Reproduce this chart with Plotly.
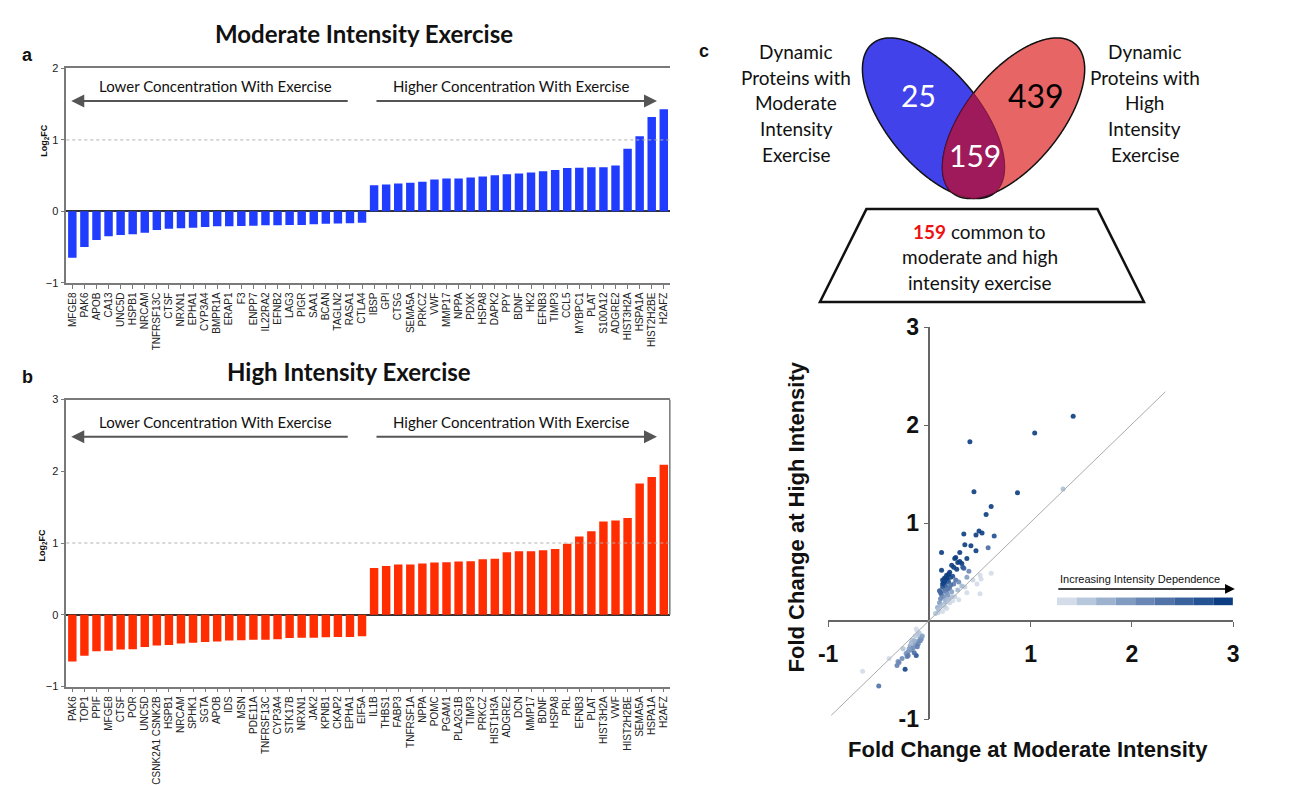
import numpy as np
import plotly.graph_objects as go

W, H = 1307, 785
def X(px): return px / W
def Y(py): return 1 - py / H

# ---------------- data ----------------
mod_genes = ["MFGE8","PAK6","APOB","CA13","UNC5D","HSPB1","NRCAM","TNFRSF13C","CTSF","NRXN1",
             "EPHA1","CYP3A4","BMPR1A","ERAP1","F3","ENPP7","IL22RA2","EFNB2","LAG3","PIGR",
             "SAA1","BCAN","TAGLN2","RASA1","CTLA4",
             "IBSP","GPI","CTSG","SEMA5A","PRKCZ","VWF","MMP17","NPPA","PDXK","HSPA8",
             "DAPK2","PPY","BDNF","HK2","EFNB3","TIMP3","CCL5","MYBPC1","PLAT","S100A12",
             "ADGRE2","HIST3H2A","HSPA1A","HIST2H2BE","H2AFZ"]
mod_fc = [-0.65,-0.50,-0.40,-0.35,-0.33,-0.32,-0.30,-0.26,-0.245,-0.235,
          -0.23,-0.22,-0.21,-0.21,-0.205,-0.20,-0.195,-0.195,-0.19,-0.19,
          -0.18,-0.175,-0.17,-0.165,-0.16,
          0.366,0.375,0.39,0.40,0.415,0.446,0.46,0.46,0.473,0.487,
          0.505,0.52,0.53,0.545,0.56,0.58,0.607,0.61,0.616,0.616,
          0.643,0.875,1.05,1.32,1.43]

high_genes = ["PAK6","TOP1","PPIF","MFGE8","CTSF","POR","UNC5D","CSNK2A1 CSNK2B","HSPB1","NRCAM",
              "SPHK1","SGTA","APOB","IDS","MSN","PDE11A","TNFRSF13C","CYP3A4","STK17B","NRXN1",
              "JAK2","KPNB1","CKAP2","EPHA1","EIF5A",
              "IL1B","THBS1","FABP3","TNFRSF1A","NPPA","POMC","PGAM1","PLA2G1B","TIMP3","PRKCZ",
              "HIST1H3A","ADGRE2","DCN","MMP17","BDNF","HSPA8","PRL","EFNB3","PLAT","HIST3H2A",
              "VWF","HIST2H2BE","SEMA5A","HSPA1A","H2AFZ"]
high_fc = [-0.65,-0.57,-0.51,-0.50,-0.485,-0.48,-0.45,-0.43,-0.42,-0.40,
           -0.39,-0.38,-0.373,-0.36,-0.355,-0.35,-0.347,-0.34,-0.325,-0.32,
           -0.32,-0.315,-0.31,-0.31,-0.30,
           0.65,0.68,0.70,0.70,0.716,0.73,0.733,0.742,0.747,0.773,
           0.78,0.87,0.884,0.884,0.90,0.915,0.99,1.09,1.165,1.30,
           1.315,1.347,1.83,1.92,2.09]

# common proteins: fold change at moderate (x) vs high (y)
common_mod = [1.42,1.04,0.40,0.44,0.87,0.61,0.56,0.34,0.49,0.52,0.46,0.64,0.35,0.41,0.12,0.30,0.46,
              0.25,0.26,0.37,0.12,0.28,0.30,0.32,0.33,0.34,0.22,0.24,0.27,0.20,0.17,0.21,0.15,0.18,
              0.23,0.19,0.14,0.16,0.13,0.20,0.10,0.15,0.17,0.12,0.14,0.19,0.11,0.16,0.22,0.24,0.26,
              0.18,0.13,0.21,0.15,0.17,0.19,0.11,0.13,
              1.32,0.58,0.39,0.61,0.50,0.51,0.29,0.37,0.37,0.47,0.50,0.28,0.29,0.25,0.35,0.10,0.12,
              0.16,0.19,0.22,0.08,0.085,0.17,0.14,0.20,0.23,0.09,0.13,0.18,0.15,0.43,0.32,0.06,
              -0.66,-0.50,-0.40,-0.24,-0.32,-0.31,-0.23,-0.21,-0.19,-0.14,-0.10,-0.09,-0.12,-0.13,
              -0.17,-0.13,-0.11,-0.18,-0.22,-0.27,-0.15,-0.09,-0.11,-0.10,-0.14,-0.18,-0.21,-0.16,
              -0.08,-0.12,-0.20,-0.15,-0.07,-0.13,-0.26,-0.30]
common_high = [2.09,1.92,1.83,1.32,1.31,1.17,1.09,0.89,0.92,0.90,0.88,0.87,0.78,0.77,0.70,0.70,0.72,
               0.64,0.65,0.64,0.52,0.60,0.61,0.59,0.55,0.54,0.57,0.55,0.53,0.50,0.47,0.45,0.44,0.42,
               0.46,0.40,0.39,0.36,0.35,0.34,0.31,0.31,0.29,0.27,0.25,0.24,0.23,0.22,0.30,0.38,0.42,
               0.33,0.42,0.37,0.40,0.44,0.48,0.29,0.38,
               1.35,0.75,0.51,0.49,0.47,0.43,0.40,0.45,0.29,0.38,0.28,0.32,0.22,0.25,0.35,0.19,0.16,
               0.20,0.22,0.25,0.14,0.09,0.13,0.17,0.19,0.21,0.12,0.10,0.27,0.15,0.42,0.36,0.08,
               -0.51,-0.66,-0.38,-0.49,-0.45,-0.41,-0.33,-0.31,-0.25,-0.23,-0.20,-0.17,-0.10,-0.35,
               -0.19,-0.21,-0.23,-0.29,-0.36,-0.38,-0.32,-0.20,-0.14,-0.12,-0.15,-0.22,-0.35,-0.27,
               -0.18,-0.26,-0.28,-0.20,-0.15,-0.08,-0.28,-0.42]

venn_counts = {"mod_only": 25, "both": 159, "high_only": 439}
scatter_ticks = [-1, 1, 2, 3]
legend_steps = ["#D3DCE8","#B7C8DC","#9CB2CF","#819CC1","#6986B5","#5273A8","#3A629D","#245293","#0B3D80"]

# ---------------- figure ----------------
fig = go.Figure()
AX = "#7a7a7a"
FONT = "Arial, Liberation Sans, sans-serif"
CAL = "Lato, Open Sans, sans-serif"

fig.add_trace(go.Bar(x=mod_genes, y=mod_fc, marker_color="#1f3cff", marker_line_width=0,
                     xaxis="x", yaxis="y", showlegend=False))
fig.add_trace(go.Bar(x=high_genes, y=high_fc, marker_color="#ff2d00", marker_line_width=0,
                     xaxis="x2", yaxis="y2", showlegend=False))

dep = [abs(h) - abs(m) for m, h in zip(common_mod, common_high)]
scale = [[i / (len(legend_steps) - 1), c] for i, c in enumerate(legend_steps)]
fig.add_trace(go.Scatter(x=common_mod, y=common_high, mode="markers", xaxis="x3", yaxis="y3",
                         marker=dict(size=5, color=dep, colorscale=scale, cmin=-0.02, cmax=0.26,
                                     opacity=0.9, line_width=0),
                         showlegend=False))

bar_x = dict(domain=[X(57), X(668)], type="category", tickangle=-90, showline=True, linecolor=AX,
             linewidth=1.5, ticks="outside", ticklen=4, tickcolor=AX, tickwidth=1,
             tickfont=dict(family=FONT, size=10, color="#222"), showgrid=False, mirror=True,
             range=[-0.5, 49.5], fixedrange=True)
bar_y = dict(showline=True, linecolor=AX, linewidth=1.5, ticks="outside", ticklen=4, tickcolor=AX,
             tickfont=dict(family=FONT, size=11, color="#222"), showgrid=False, zeroline=True,
             zerolinecolor="#333", zerolinewidth=1.5, dtick=1)
sc_font = dict(family=FONT, size=23, color="#111")
sc_text = [f"<b>{v}</b>" for v in scatter_ticks]

fig.update_layout(
    width=W, height=H, margin=dict(l=0, r=0, t=0, b=0, pad=0), autosize=False,
    paper_bgcolor="white", plot_bgcolor="rgba(0,0,0,0)", bargap=0.3,
    xaxis=dict(bar_x, anchor="y"),
    yaxis=dict(bar_y, domain=[Y(282), Y(58)], range=[-1, 2], anchor="x"),
    xaxis2=dict(bar_x, anchor="y2", mirror=True),
    yaxis2=dict(bar_y, domain=[Y(704), Y(404)], range=[-1, 3], anchor="x2"),
    xaxis3=dict(domain=[X(828.3), X(1238.3)], range=[-1, 3], anchor="free", position=Y(636),
                showline=True, linecolor="#666", linewidth=1.5, ticks="outside", ticklen=5,
                tickcolor="#666", tickvals=scatter_ticks, ticktext=sc_text, showgrid=False,
                zeroline=False, tickfont=sc_font, ticklabelstandoff=7),
    yaxis3=dict(domain=[Y(738.3), Y(328.3)], range=[-1, 3], anchor="free", position=X(930.7),
                showline=True, linecolor="#666", linewidth=1.5, ticks="outside", ticklen=5,
                tickcolor="#666", tickvals=scatter_ticks, ticktext=sc_text, showgrid=False,
                zeroline=False, tickfont=sc_font),
)

shapes = []
for yref, xref in (("y", "x"), ("y2", "x2")):
    shapes.append(dict(type="line", xref=f"{xref} domain", yref=yref, x0=0, x1=1, y0=1, y1=1,
                       line=dict(color="#b0b0b0", width=1, dash="dot")))
shapes.append(dict(type="line", xref="x2 domain", yref="y2", x0=1, x1=1, y0=0, y1=3,
                   line=dict(color=AX, width=1.5)))
shapes.append(dict(type="line", xref="x3", yref="y3", x0=-0.97, y0=-0.96, x1=2.33, y1=2.34,
                   line=dict(color="#aaaaaa", width=1)))
sx0, sx1 = 1060, 1238
sw = (sx1 - sx0) / len(legend_steps)
for i, c in enumerate(legend_steps):
    shapes.append(dict(type="rect", xref="paper", yref="paper", x0=X(sx0 + i * sw), x1=X(sx0 + (i + 1) * sw),
                       y0=Y(619), y1=Y(611), fillcolor=c, line_width=0))

# ---- Venn ellipses ----
def ellipse(cx, cy, a, b, th, mirror=False, n=720):
    t = np.linspace(0, 2 * np.pi, n, endpoint=False)
    s, c = np.sin(np.radians(th)), np.cos(np.radians(th))
    m = np.array([-s if mirror else s, c])
    nn = np.array([c, s if mirror else -s])
    px = cx + a * np.cos(t) * m[0] + b * np.sin(t) * nn[0]
    py = cy + a * np.cos(t) * m[1] + b * np.sin(t) * nn[1]
    return px, py, m, nn

def inside(px, py, cx, cy, a, b, m, nn):
    dx, dy = px - cx, py - cy
    u = dx * m[0] + dy * m[1]
    v = dx * nn[0] + dy * nn[1]
    return (u / a) ** 2 + (v / b) ** 2 <= 1.0001

def path(px, py):
    return "M " + " L ".join(f"{X(a):.5f},{Y(b):.5f}" for a, b in zip(px, py)) + " Z"

A_, B_, TH = 99.6, 48.1, 37.9
bc, rc = (935, 110), (1016, 110)
bx, by, bm, bn = ellipse(*bc, A_, B_, TH)
rx, ry, rm, rn = ellipse(*rc, A_, B_, TH, mirror=True)
shapes.append(dict(type="path", xref="paper", yref="paper", path=path(bx, by),
                   fillcolor="#4242EB", line=dict(color="#111", width=1.5)))
shapes.append(dict(type="path", xref="paper", yref="paper", path=path(rx, ry),
                   fillcolor="#E86565", line=dict(color="#111", width=1.5)))
bmask = inside(bx, by, *rc, A_, B_, rm, rn)
rmask = inside(rx, ry, *bc, A_, B_, bm, bn)
lx = np.concatenate([bx[bmask], rx[rmask]])
ly = np.concatenate([by[bmask], ry[rmask]])
order = np.argsort(np.arctan2(ly - ly.mean(), lx - lx.mean()))
shapes.append(dict(type="path", xref="paper", yref="paper", path=path(lx[order], ly[order]),
                   fillcolor="#9E1A5A", line=dict(color="#6a1036", width=1)))
tpx, tpy = [867, 1101, 1148, 820], [205, 205, 302, 302]
shapes.append(dict(type="path", xref="paper", yref="paper", path=path(tpx, tpy),
                   fillcolor="white", line=dict(color="#111", width=2.5)))
fig.update_layout(shapes=shapes)

ann = []
def txt(x, y, s, size, color="#111", family=CAL, xanchor="center", textangle=0, yanchor="middle"):
    ann.append(dict(x=X(x), y=Y(y), xref="paper", yref="paper", text=s, showarrow=False,
                    xanchor=xanchor, yanchor=yanchor, textangle=textangle,
                    font=dict(family=family, size=size, color=color)))

def arrow(xh, xt, y, color="#555", width=2):
    ann.append(dict(x=X(xh), y=Y(y), xref="paper", yref="paper", ax=xt - xh, ay=0,
                    axref="pixel", ayref="pixel", text="", showarrow=True, arrowhead=2,
                    arrowsize=1.3, arrowwidth=width, arrowcolor=color, standoff=0, startstandoff=0))

txt(358, 21, "<b>Moderate Intensity Exercise</b>", 24)
txt(343, 375, "<b>High Intensity Exercise</b>", 24)
txt(18, 44, "<b>a</b>", 18, family=FONT)
txt(18, 381, "<b>b</b>", 18, family=FONT)
txt(703, 40, "<b>c</b>", 18, family=FONT)
txt(35, 133, "<b>Log<sub>2</sub>FC</b>", 9, family=FONT, textangle=-90)
txt(33, 556, "<b>Log<sub>2</sub>FC</b>", 9, family=FONT, textangle=-90)
for ty, ay_ in ((76, 92), (427, 443)):
    txt(208, ty, "Lower Concentration With Exercise", 15)
    txt(508, ty, "Higher Concentration With Exercise", 15)
    arrow(62, 340, ay_)
    arrow(655, 373, ay_)

left_lines = ["Dynamic", "Proteins with", "Moderate", "Intensity", "Exercise"]
right_lines = ["Dynamic", "Proteins with", "High", "Intensity", "Exercise"]
for i, (l, r) in enumerate(zip(left_lines, right_lines)):
    yy = 40 + i * 27
    txt(796, yy, l, 19)
    txt(1149, yy, r, 19)
txt(920, 86, str(venn_counts["mod_only"]), 30, color="white")
txt(1039, 86, str(venn_counts["high_only"]), 32, color="#000")
txt(977, 148, str(venn_counts["both"]), 30, color="white")
trap_lines = [f"<b><span style='color:#ee1111'>{venn_counts['both']}</span></b> common to",
              "moderate and high", "intensity exercise"]
for i, s in enumerate(trap_lines):
    txt(982, 228 + i * 27, s, 19)

txt(796, 527, "<b>Fold Change at High Intensity</b>", 22, family=FONT, textangle=-90)
txt(1031, 770, "<b>Fold Change at Moderate Intensity</b>", 22, family=FONT)
txt(1144, 592, "Increasing Intensity Dependence", 11, family=FONT)
arrow(1240, 1062, 602, color="#000", width=1.5)

fig.update_layout(annotations=ann)
fig.write_html("out.html", config={"displayModeBar": False},
               post_script="document.body.style.margin='0';")
